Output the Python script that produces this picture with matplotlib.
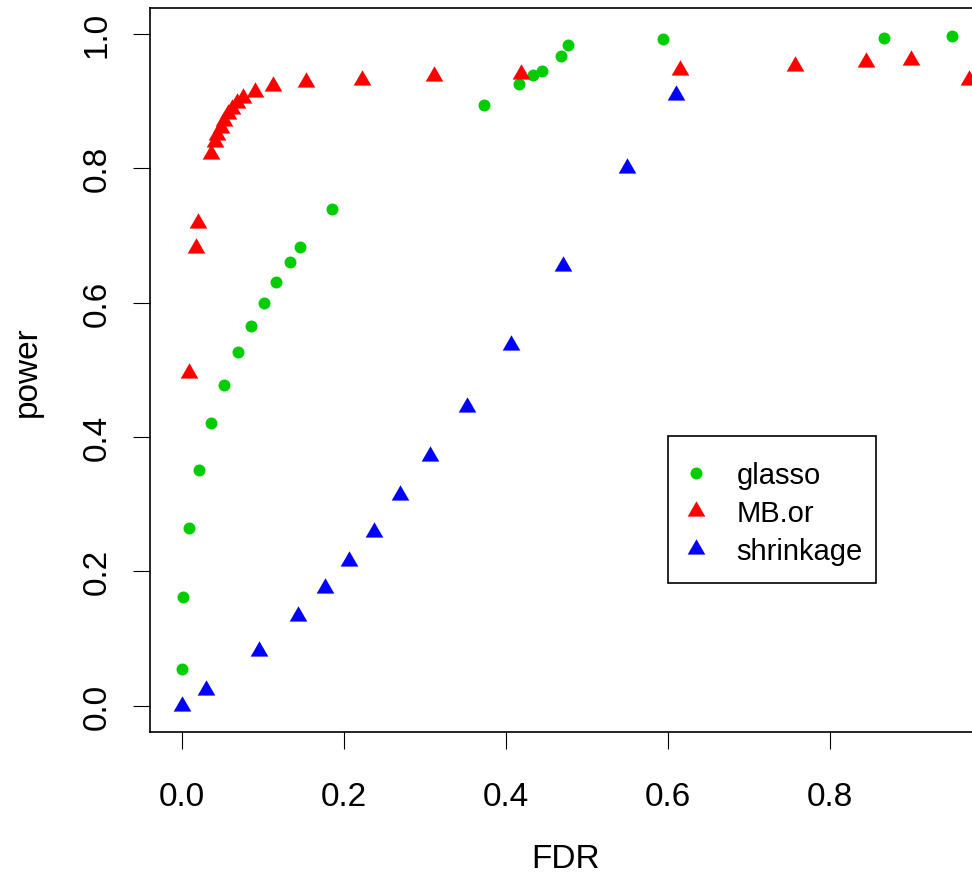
import matplotlib
matplotlib.use("Agg")
import matplotlib.pyplot as plt
from matplotlib.patches import Rectangle

plt.rcParams['font.family'] = ['Liberation Sans', 'DejaVu Sans']

# FDR / power pairs for the three estimators
glasso_fdr = [0.0, 0.0016, 0.0086, 0.0218, 0.0357, 0.0518, 0.069, 0.086, 0.102,
              0.117, 0.1335, 0.1466, 0.186, 0.373, 0.4157, 0.434, 0.4445, 0.468,
              0.4765, 0.594, 0.867, 0.950]
glasso_power = [0.054, 0.162, 0.265, 0.351, 0.421, 0.477, 0.526, 0.566, 0.600,
                0.631, 0.660, 0.683, 0.739, 0.894, 0.926, 0.939, 0.945, 0.967,
                0.984, 0.992, 0.994, 0.997]

mb_fdr = [0.0095, 0.0176, 0.0206, 0.0357, 0.041, 0.044, 0.048, 0.052, 0.057,
          0.062, 0.068, 0.076, 0.090, 0.1125, 0.1535, 0.223, 0.312, 0.4186,
          0.615, 0.757, 0.845, 0.900, 0.972]
mb_power = [0.496, 0.681, 0.719, 0.822, 0.839, 0.850, 0.860, 0.870, 0.881,
            0.889, 0.897, 0.905, 0.914, 0.922, 0.928, 0.932, 0.937, 0.941,
            0.947, 0.953, 0.959, 0.962, 0.931]

shrink_fdr = [0.0, 0.0296, 0.0957, 0.144, 0.177, 0.207, 0.237, 0.269, 0.307,
              0.352, 0.407, 0.470, 0.549, 0.610]
shrink_power = [0.0, 0.024, 0.081, 0.133, 0.175, 0.216, 0.259, 0.313, 0.371,
                0.445, 0.537, 0.654, 0.801, 0.909]

# triangle centred like R's pch=17
tri = [(0, 1), (-0.866, -0.5), (0.866, -0.5), (0, 1)]

W, H = 972, 878
fig = plt.figure(figsize=(W/100, H/100), dpi=100)
ax = fig.add_axes([150/W, 144.7/H, (1001-150)/W, (733.3-9)/H])

ax.plot(glasso_fdr, glasso_power, ls='none', marker='o', ms=8.6, color='#00CD00',
        mec='none', label='glasso', clip_on=False)
ax.plot(mb_fdr, mb_power, ls='none', marker=tri, ms=14.7, color='#FF0000',
        mec='none', label='MB.or', clip_on=False)
ax.plot(shrink_fdr, shrink_power, ls='none', marker=tri, ms=14.7, color='#0000FF',
        mec='none', label='shrinkage', clip_on=False)

ax.set_xlim(-0.039, 1.011)
ax.set_ylim(-0.0396, 1.0387)
ax.set_xticks([0.0, 0.2, 0.4, 0.6, 0.8])
ax.set_yticks([0.0, 0.2, 0.4, 0.6, 0.8, 1.0])
ax.set_xticklabels(['0.0', '0.2', '0.4', '0.6', '0.8'])
ax.set_yticklabels(['0.0', '0.2', '0.4', '0.6', '0.8', '1.0'], rotation=90, va='center')
ax.tick_params(direction='out', length=12, width=0.8, labelsize=24)
ax.tick_params(axis='x', pad=23)
ax.tick_params(axis='y', pad=15)
for s in ax.spines.values():
    s.set_linewidth(1.2)

# x label sits under the visible part of the plot region
fig.text(566/W, 1-860/H, 'FDR', fontsize=24, ha='center', va='center')
ax.set_ylabel('power', fontsize=24)
ax.yaxis.set_label_coords(-(150-27)/(1001-150), 0.5)
ax.yaxis.label.set_va('center')

# legend entries without frame, box drawn separately (R-style tight box)
leg = ax.legend(loc='upper left', bbox_to_anchor=(668/W, 1-437/H),
                bbox_transform=fig.transFigure, fontsize=21, frameon=False,
                borderpad=0.85, handlelength=0.2, handletextpad=1.3,
                labelspacing=0.35, borderaxespad=0)
fig.add_artist(Rectangle((668/W, 1-584/H), (876-668)/W, (584-437)/H,
                         transform=fig.transFigure, fill=False,
                         edgecolor='black', linewidth=1.2))

fig.savefig('out.png', dpi=100)
